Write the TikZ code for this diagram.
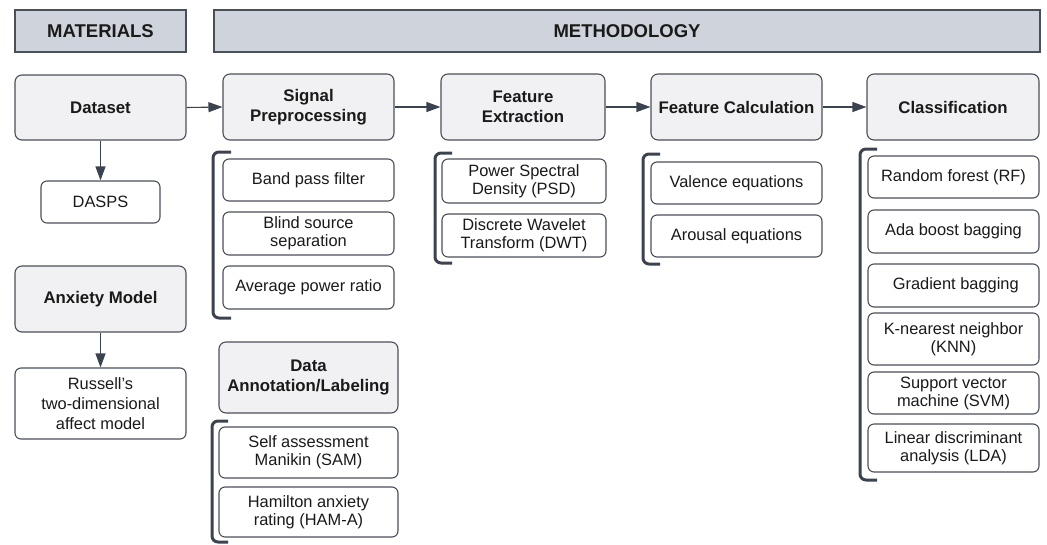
\documentclass[tikz,border=0pt]{standalone}
\usepackage{fontspec}
\setmainfont{Liberation Sans}
\usetikzlibrary{arrows.meta}
\definecolor{hdrfill}{HTML}{CFD4DC}
\definecolor{grayfill}{HTML}{F1F1F3}
\definecolor{edge}{HTML}{4A4F58}
\definecolor{brk}{HTML}{3C4350}
\definecolor{ink}{HTML}{1A1A1A}
\tikzset{
  base/.style={draw=edge, line width=1.1pt, text=ink, align=center, inner sep=2pt,
    font=\fontsize{16.4}{18}\selectfont},
  header/.style={base, rectangle, fill=hdrfill, font=\fontsize{18.5}{20}\selectfont\bfseries},
  stage/.style={base, rounded corners=7pt, fill=grayfill, font=\fontsize{16.8}{20}\selectfont\bfseries},
  item/.style={base, rounded corners=6pt, fill=white},
  flow/.style={draw=brk, line width=1.1pt, -{Triangle[length=14pt,width=10pt]}},
  bracket/.style={draw=brk, line width=3pt, rounded corners=6pt},
}
\begin{document}
\begin{tikzpicture}[x=1pt,y=-1pt]
\useasboundingbox (0,0) rectangle (1047,544);

% section headers
\node[header, minimum width=171pt, minimum height=42pt] (mat) at (100.5,31) {MATERIALS};
\node[header, minimum width=826pt, minimum height=42pt] (meth) at (627,31) {METHODOLOGY};

% main stages
\node[stage, minimum width=171pt, minimum height=65pt] (dataset) at (100.5,107.5) {Dataset};
\node[stage, minimum width=171pt, minimum height=66pt] (sig) at (308.5,107) {Signal\\Preprocessing};
\node[stage, minimum width=164pt, minimum height=66pt] (fe) at (523,107) {Feature\\Extraction};
\node[stage, minimum width=171pt, minimum height=66pt] (fc) at (736.5,107) {Feature Calculation};
\node[stage, minimum width=172pt, minimum height=66pt] (cls) at (953,107) {Classification};

% materials column
\node[item, minimum width=119pt, minimum height=42pt] (dasps) at (100.5,202) {DASPS};
\node[stage, minimum width=171pt, minimum height=66pt] (anx) at (100.5,299) {Anxiety Model};
\node[item, minimum width=171pt, minimum height=71pt, font=\fontsize{16.4}{20}\selectfont] (russ) at (100.5,403.5) {Russell's\\two-dimensional\\affect model};

% signal preprocessing
\node[item, minimum width=171pt, minimum height=42pt] (bpf) at (308.5,180) {Band pass filter};
\node[item, minimum width=171pt, minimum height=43pt] (bss) at (308.5,233.5) {Blind source\\separation};
\node[item, minimum width=171pt, minimum height=43pt] (apr) at (308.5,287.5) {Average power ratio};

% annotation
\node[stage, minimum width=179pt, minimum height=71pt] (ann) at (308.5,377.5) {Data\\Annotation/Labeling};
\node[item, minimum width=179pt, minimum height=51pt] (sam) at (308.5,452.5) {Self assessment\\Manikin (SAM)};
\node[item, minimum width=179pt, minimum height=50pt] (ham) at (308.5,512) {Hamilton anxiety\\rating (HAM-A)};

% feature extraction
\node[item, minimum width=164pt, minimum height=44pt] (psd) at (524,181) {Power Spectral\\Density (PSD)};
\node[item, minimum width=164pt, minimum height=43pt] (dwt) at (524,235.5) {Discrete Wavelet\\Transform (DWT)};

% feature calculation
\node[item, minimum width=171pt, minimum height=42pt] (val) at (736.5,183) {Valence equations};
\node[item, minimum width=171pt, minimum height=42pt] (aro) at (736.5,236) {Arousal equations};

% classifiers
\node[item, minimum width=171pt, minimum height=42pt] (rf) at (953.5,177) {Random forest (RF)};
\node[item, minimum width=171pt, minimum height=43pt] (ada) at (953.5,231.5) {Ada boost bagging};
\node[item, minimum width=171pt, minimum height=43pt] (grad) at (953.5,285.5) {\ Gradient bagging};
\node[item, minimum width=171pt, minimum height=52pt] (knn) at (953.5,339) {K-nearest neighbor\\(KNN)};
\node[item, minimum width=171pt, minimum height=42pt] (svm) at (953.5,393) {Support vector\\machine (SVM)};
\node[item, minimum width=171pt, minimum height=48pt] (lda) at (953.5,448) {Linear discriminant\\analysis (LDA)};

% connectors
\draw[flow] (dataset.east) -- (sig.west);
\draw[flow] (sig.east) -- (fe.west);
\draw[flow] (fe.east) -- (fc.west);
\draw[flow] (fc.east) -- (cls.west);
\draw[flow] (dataset.south) -- (dasps.north);
\draw[flow] (anx.south) -- (russ.north);

% brackets grouping the sub-steps
\draw[bracket] (231,152) -- (213,152) -- (213,318) -- (231,318);
\draw[bracket] (228,421) -- (212,421) -- (212,542) -- (228,542);
\draw[bracket] (452,153) -- (435,153) -- (435,263) -- (452,263);
\draw[bracket] (660,154) -- (643,154) -- (643,264) -- (660,264);
\draw[bracket] (877,149) -- (860,149) -- (860,480) -- (877,480);
\end{tikzpicture}
\end{document}
